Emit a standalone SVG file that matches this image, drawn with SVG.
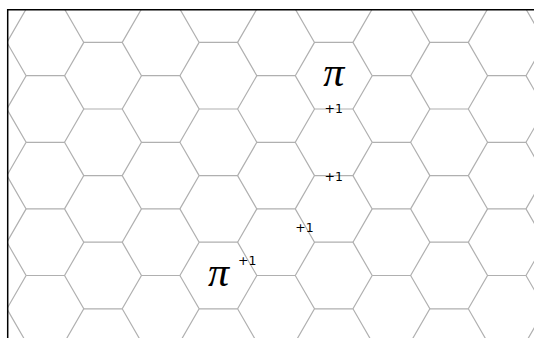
<svg xmlns="http://www.w3.org/2000/svg" xmlns:xlink="http://www.w3.org/1999/xlink" width="534" height="338" viewBox="0 0 534 338">
<style>
.grid{fill:none;stroke:#b0b0b0;stroke-width:1.2;stroke-linejoin:miter}
.pi{font-family:"Liberation Serif",serif;font-style:italic;font-size:42px;fill:#000;text-anchor:middle}
.cost{font-family:"DejaVu Sans",sans-serif;font-size:12.5px;fill:#000;text-anchor:middle}
</style>
<defs>
<path id="h" d="M-19.23,-33.3 L19.23,-33.3 L38.45,0 L19.23,33.3"/>
<clipPath id="clip"><rect x="8" y="10" width="526" height="328"/></clipPath>
</defs>
<rect width="534" height="338" fill="#fff"/>
<g id="grid" class="grid" clip-path="url(#clip)">
<g id="col-2"><use xlink:href="#h" x="-12.36" y="9.1"/><use xlink:href="#h" x="-12.36" y="75.7"/><use xlink:href="#h" x="-12.36" y="142.3"/><use xlink:href="#h" x="-12.36" y="208.9"/><use xlink:href="#h" x="-12.36" y="275.5"/><use xlink:href="#h" x="-12.36" y="342.1"/></g>
<g id="col-1"><use xlink:href="#h" x="45.32" y="-24.2"/><use xlink:href="#h" x="45.32" y="42.4"/><use xlink:href="#h" x="45.32" y="109"/><use xlink:href="#h" x="45.32" y="175.6"/><use xlink:href="#h" x="45.32" y="242.2"/><use xlink:href="#h" x="45.32" y="308.8"/><use xlink:href="#h" x="45.32" y="375.4"/></g>
<g id="col0"><use xlink:href="#h" x="103" y="9.1"/><use xlink:href="#h" x="103" y="75.7"/><use xlink:href="#h" x="103" y="142.3"/><use xlink:href="#h" x="103" y="208.9"/><use xlink:href="#h" x="103" y="275.5"/><use xlink:href="#h" x="103" y="342.1"/></g>
<g id="col1"><use xlink:href="#h" x="160.68" y="-24.2"/><use xlink:href="#h" x="160.68" y="42.4"/><use xlink:href="#h" x="160.68" y="109"/><use xlink:href="#h" x="160.68" y="175.6"/><use xlink:href="#h" x="160.68" y="242.2"/><use xlink:href="#h" x="160.68" y="308.8"/><use xlink:href="#h" x="160.68" y="375.4"/></g>
<g id="col2"><use xlink:href="#h" x="218.36" y="9.1"/><use xlink:href="#h" x="218.36" y="75.7"/><use xlink:href="#h" x="218.36" y="142.3"/><use xlink:href="#h" x="218.36" y="208.9"/><use xlink:href="#h" x="218.36" y="275.5"/><use xlink:href="#h" x="218.36" y="342.1"/></g>
<g id="col3"><use xlink:href="#h" x="276.04" y="-24.2"/><use xlink:href="#h" x="276.04" y="42.4"/><use xlink:href="#h" x="276.04" y="109"/><use xlink:href="#h" x="276.04" y="175.6"/><use xlink:href="#h" x="276.04" y="242.2"/><use xlink:href="#h" x="276.04" y="308.8"/><use xlink:href="#h" x="276.04" y="375.4"/></g>
<g id="col4"><use xlink:href="#h" x="333.72" y="9.1"/><use xlink:href="#h" x="333.72" y="75.7"/><use xlink:href="#h" x="333.72" y="142.3"/><use xlink:href="#h" x="333.72" y="208.9"/><use xlink:href="#h" x="333.72" y="275.5"/><use xlink:href="#h" x="333.72" y="342.1"/></g>
<g id="col5"><use xlink:href="#h" x="391.4" y="-24.2"/><use xlink:href="#h" x="391.4" y="42.4"/><use xlink:href="#h" x="391.4" y="109"/><use xlink:href="#h" x="391.4" y="175.6"/><use xlink:href="#h" x="391.4" y="242.2"/><use xlink:href="#h" x="391.4" y="308.8"/><use xlink:href="#h" x="391.4" y="375.4"/></g>
<g id="col6"><use xlink:href="#h" x="449.08" y="9.1"/><use xlink:href="#h" x="449.08" y="75.7"/><use xlink:href="#h" x="449.08" y="142.3"/><use xlink:href="#h" x="449.08" y="208.9"/><use xlink:href="#h" x="449.08" y="275.5"/><use xlink:href="#h" x="449.08" y="342.1"/></g>
<g id="col7"><use xlink:href="#h" x="506.76" y="-24.2"/><use xlink:href="#h" x="506.76" y="42.4"/><use xlink:href="#h" x="506.76" y="109"/><use xlink:href="#h" x="506.76" y="175.6"/><use xlink:href="#h" x="506.76" y="242.2"/><use xlink:href="#h" x="506.76" y="308.8"/><use xlink:href="#h" x="506.76" y="375.4"/></g>
<g id="col8"><use xlink:href="#h" x="564.44" y="9.1"/><use xlink:href="#h" x="564.44" y="75.7"/><use xlink:href="#h" x="564.44" y="142.3"/><use xlink:href="#h" x="564.44" y="208.9"/><use xlink:href="#h" x="564.44" y="275.5"/><use xlink:href="#h" x="564.44" y="342.1"/></g>
</g>
<path id="frame" d="M7.7,338 V9.7 H534" fill="none" stroke="#000" stroke-width="1.5"/>
<g id="labels">
<text id="pi1" class="pi" x="333.7" y="86">π</text>
<text id="pi2" class="pi" x="218.4" y="285.5">π</text>
<text id="c1" class="cost" x="333.8" y="113">+1</text>
<text id="c2" class="cost" x="333.8" y="180.5">+1</text>
<text id="c3" class="cost" x="304.5" y="231.5">+1</text>
<text id="c4" class="cost" x="247.2" y="265">+1</text>
</g>
</svg>
